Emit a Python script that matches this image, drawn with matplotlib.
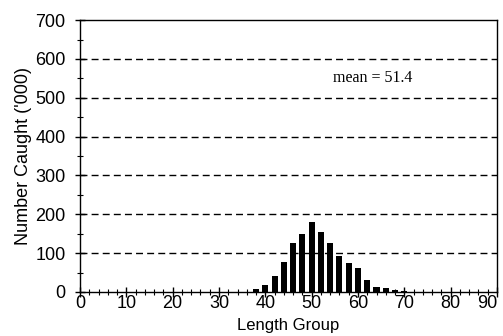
import numpy as np
import matplotlib.pyplot as plt
from matplotlib.ticker import MultipleLocator

# length groups and catch ('000)
length_group = [36, 38, 40, 42, 44, 46, 48, 50, 52, 54, 56, 58, 60, 62, 64, 66, 68, 70, 72]
caught = [1, 8, 18, 42, 77, 127, 150, 181, 155, 126, 92, 75, 61, 30, 13, 10, 4, 2, 1]
x_ticks = [0, 10, 20, 30, 40, 50, 60, 70, 80, 90]
mean_label = "mean = 51.4"

plt.rcParams['font.family'] = ['Liberation Sans', 'DejaVu Sans']

fig = plt.figure(figsize=(5.03, 3.36), dpi=100)
ax = fig.add_axes([0.159, 0.131, 0.829, 0.809])

ax.bar(length_group, caught, width=1.3, color="black", zorder=3)

ax.set_xlim(0, 90)
ax.set_ylim(0, 700)
ax.set_xticks(x_ticks, [str(t) for t in x_ticks])
ax.xaxis.set_minor_locator(MultipleLocator(2))
ax.yaxis.set_major_locator(MultipleLocator(100))
ax.yaxis.set_minor_locator(MultipleLocator(50))
ax.tick_params(which="major", direction="inout", length=7, width=1, labelsize=13)
ax.tick_params(which="minor", direction="inout", length=5, width=0.8)
ax.tick_params(axis="x", which="major", pad=-1)
ax.tick_params(axis="y", which="major", pad=7)

# keep the last x label (90) inside the figure, as in the original
ax.get_xticklabels()[-1].set_horizontalalignment("right")

for v in range(100, 700, 100):
    ax.axhline(v, color="black", lw=1, ls=(0, (5, 3)), zorder=1)

for s in ax.spines.values():
    s.set_linewidth(1)

ax.text(54.6, 550, mean_label, family="Liberation Serif", fontsize=11.5, va="center")

ax.set_xlabel("Length Group", fontsize=12, labelpad=4)
ax.set_ylabel("Number Caught ('000)", fontsize=13, labelpad=2)

plt.savefig("out.png", dpi=100)
